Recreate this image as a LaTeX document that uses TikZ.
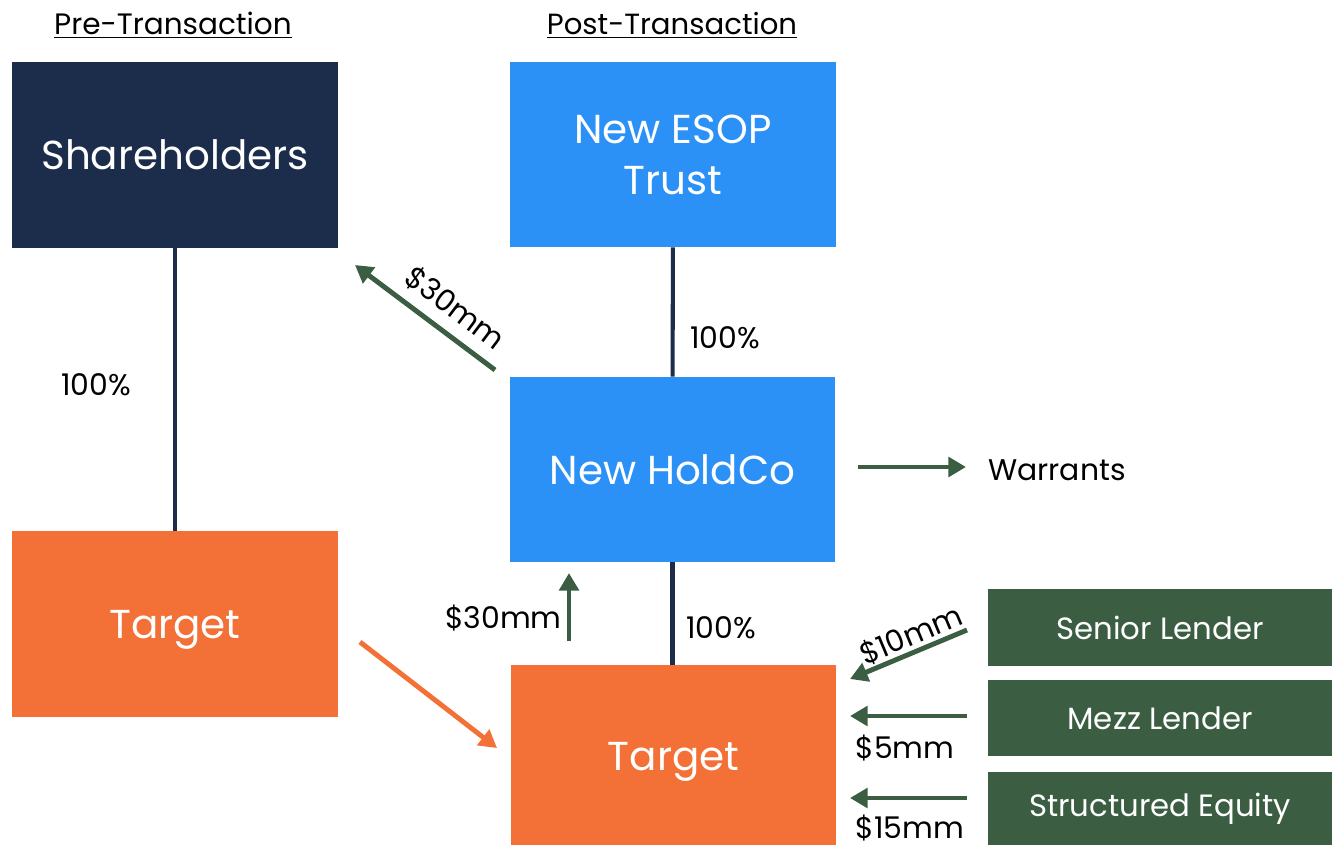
\documentclass[tikz,border=0pt]{standalone}
\usepackage{fontspec}
\setmainfont{Poppins}
\usetikzlibrary{arrows.meta}
\definecolor{navy}{HTML}{1B2D4B}
\definecolor{esopblue}{HTML}{2C91F6}
\definecolor{targetorange}{HTML}{F37037}
\definecolor{lendergreen}{HTML}{3B5D42}

\begin{document}
\begin{tikzpicture}[x=0.02cm,y=-0.02cm]
\tikzstyle{every node}+=[inner sep=0pt]
\tikzstyle{box}=[minimum width=6.52cm, minimum height=3.72cm, text=white, align=center, text depth=0pt, font=\fontsize{23}{29}\selectfont]
\tikzstyle{lender}=[minimum width=6.88cm, minimum height=1.54cm, fill=lendergreen, text=white, font=\fontsize{17.5}{21}\selectfont]
\tikzstyle{pct}=[font=\fontsize{17}{21}\selectfont]
\tikzstyle{own}=[navy, line width=2.3pt]
\tikzstyle{flow}=[lendergreen, line width=2.8pt, -{Triangle[length=10pt,width=11pt]}]
\useasboundingbox (0,0) rectangle (1332,845);
% headings
\node (pre) at (173,25) {\fontsize{16.8}{20}\selectfont\underline{Pre-Transaction}};
\node (post) at (672,25) {\fontsize{16.6}{20}\selectfont\underline{Post-Transaction}};
% before the deal
\node [box, fill=navy] (share) at (175,155) {Shareholders};
\node [box, fill=targetorange] (oldtarget) at (175,624) {Target};
\draw [own] (share) -- (oldtarget);
\node [pct] (p1) at (96,385) {100\%};
% after the deal
\node [box, fill=esopblue, minimum height=3.70cm] (esop) at (673,154.5) {New ESOP\\Trust};
\node [box, fill=esopblue, minimum width=6.50cm, minimum height=3.70cm] (holdco) at (672.5,469.5) {New HoldCo};
\node [box, fill=targetorange, minimum width=6.50cm, minimum height=3.64cm] (newtarget) at (673.5,756) {Target};
\draw [own] (esop) -- (holdco);
\draw [own] (holdco.south) -- (holdco.south |- newtarget.north);
\node [pct] (p2) at (725,338) {100\%};
\node [pct] (p3) at (721,628) {100\%};
% lenders
\node [lender] (senior) at (1160,627.5) {Senior Lender};
\node [lender, minimum height=1.52cm] (mezz) at (1160,718) {Mezz Lender};
\node [lender, minimum height=1.46cm] (structured) at (1160,808.5) {Structured Equity};
% cash flows
\coordinate (c1a) at (495,370); \coordinate (c1b) at (355,265);
\draw [flow] (c1a) -- (c1b);
\node [pct, rotate=-37] (l1) at (455,308) {\$30mm};
\coordinate (c2a) at (569,641); \coordinate (c2b) at (569,573);
\draw [flow] (c2a) -- (c2b);
\node [pct, anchor=east] (l2) at (562,618) {\$30mm};
\coordinate (c3a) at (360,642); \coordinate (c3b) at (497,748);
\draw [flow, targetorange] (c3a) -- (c3b);
\coordinate (c4a) at (858,467); \coordinate (c4b) at (966,467);
\draw [flow] (c4a) -- (c4b);
\node [pct, anchor=west] (warrants) at (988,470) {Warrants};
\coordinate (c5a) at (967,630); \coordinate (c5b) at (850,679);
\draw [flow] (c5a) -- (c5b);
\node [pct, rotate=22.7] (l5) at (911,635) {\$10mm};
\coordinate (c6a) at (967,716); \coordinate (c6b) at (850,716);
\draw [flow] (c6a) -- (c6b);
\node [pct] (l6) at (905,748) {\$5mm};
\coordinate (c7a) at (967,798); \coordinate (c7b) at (850,798);
\draw [flow] (c7a) -- (c7b);
\node [pct] (l7) at (910,828) {\$15mm};
\end{tikzpicture}
\end{document}
